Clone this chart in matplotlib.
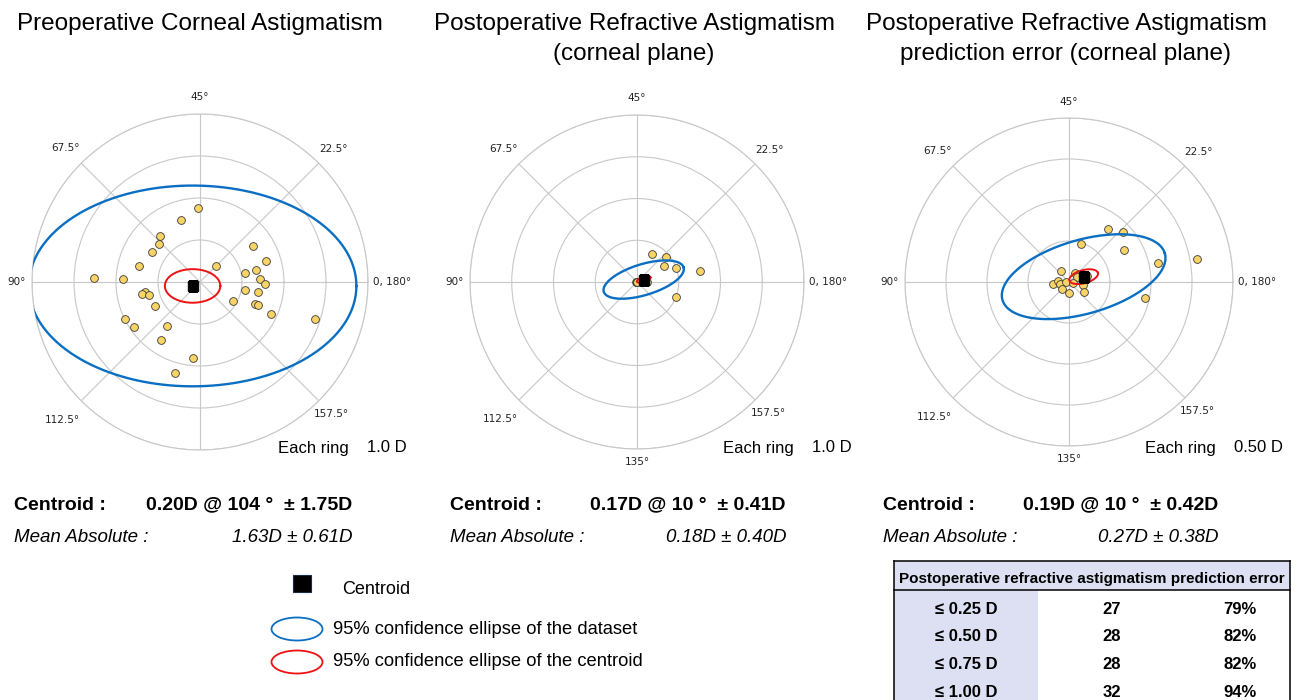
import numpy as np
import matplotlib.pyplot as plt
from matplotlib.patches import Rectangle, Ellipse

W, H = 1296, 700

# double-angle astigmatism vectors (x, y) in dioptres
pre_x = [-0.04, -0.46, -0.96, -0.98, -1.14, -1.46, -2.52, -1.84, -1.32, -1.38, -1.22,
         -1.07, -1.78, -1.57, -0.78, -0.92, -0.16, -0.60, 0.38, 1.26, 1.56, 1.07,
         1.34, 1.42, 1.54, 1.06, 1.38, 0.78, 1.30, 1.38, 1.70, 2.74]
pre_y = [1.77, 1.48, 1.10, 0.90, 0.72, 0.38, 0.09, 0.06, -0.24, -0.29, -0.31,
         -0.58, -0.88, -1.07, -1.04, -1.39, -1.80, -2.17, 0.39, 0.85, 0.50, 0.22,
         0.28, 0.06, -0.05, -0.18, -0.24, -0.45, -0.52, -0.54, -0.76, -0.89]

post_x = [0.37, 0.70, 0.65, 0.94, 1.50, 0.94, -0.02, 0.25, 0.0, 0.0, 0.0, 0.0]
post_y = [0.66, 0.60, 0.38, 0.34, 0.27, -0.36, -0.01, -0.01, 0.0, 0.0, 0.0, 0.0]

err_x = [0.47, 0.66, 0.15, 0.67, 1.09, 1.56, 0.93, -0.10, 0.07, -0.20, -0.13,
         -0.11, -0.04, -0.08, 0.00, 0.17, 0.18, 0.10, 0.22, 0.05]
err_y = [0.65, 0.61, 0.46, 0.39, 0.23, 0.28, -0.20, 0.13, 0.11, -0.03, 0.01,
         -0.02, 0.00, -0.09, -0.13, -0.04, -0.12, 0.06, 0.07, -0.01]

# centroid magnitude (D), axis (deg), SD (D); mean absolute and SD
cent_mag = [0.20, 0.17, 0.19]
cent_axis = [104, 10, 10]
cent_sd = [1.75, 0.41, 0.42]
mean_abs = [1.63, 0.18, 0.27]
mean_abs_sd = [0.61, 0.40, 0.38]

# 95% ellipses: semi-major, semi-minor, tilt (deg) in double-angle space
data_ell = [(3.90, 2.39, 0), (1.00, 0.37, 17), (1.03, 0.45, 16)]
cent_ell = [(0.66, 0.40, 0), (0.17, 0.06, 17), (0.18, 0.08, 15)]

ring_step = [1.0, 1.0, 0.5]
ring_text = ['1.0 D', '1.0 D', '0.50 D']

titles = ['Preoperative Corneal Astigmatism',
          'Postoperative Refractive Astigmatism\n(corneal plane)',
          'Postoperative Refractive Astigmatism\nprediction error (corneal plane)']

# prediction error table
tbl_rows = ['≤ 0.25 D', '≤ 0.50 D', '≤ 0.75 D', '≤ 1.00 D']
tbl_counts = [27, 28, 28, 32]
tbl_pct = [79, 82, 82, 94]

plt.rcParams['font.family'] = ['Liberation Sans', 'DejaVu Sans']

BLUE = '#0a6fc2'
RED = '#ee1111'
GOLD = '#f8d466'
GRID = '#c8c8c8'

fig = plt.figure(figsize=(W / 100, H / 100), dpi=100)


def fx(x):
    return x / W


def fy(y):
    return 1 - y / H


def ellipse_polar(cx, cy, a, b, tilt):
    t = np.linspace(0, 2 * np.pi, 721)
    ang = np.deg2rad(tilt)
    ex = cx + a * np.cos(t) * np.cos(ang) - b * np.sin(t) * np.sin(ang)
    ey = cy + a * np.cos(t) * np.sin(ang) + b * np.sin(t) * np.cos(ang)
    return np.unwrap(np.arctan2(ey, ex)), np.hypot(ex, ey)


angle_labels = {0: '0, 180°', 45: '22.5°', 90: '45°', 135: '67.5°',
                180: '90°', 225: '112.5°', 270: '135°', 315: '157.5°'}
label_pos = {0: (1.03, 'left'), 45: (1.12, 'center'), 90: (1.10, 'center'),
             135: (1.13, 'center'), 180: (1.04, 'right'), 225: (1.16, 'center'),
             270: (1.08, 'center'), 315: (1.11, 'center')}

panels = [(200, 282, 168, pre_x, pre_y), (637, 282, 167, post_x, post_y),
          (1069, 282, 164, err_x, err_y)]
ring_note_x = [(278, 407), (723, 852), (1145, 1283)]

for i, (cx, cy, rad, xs, ys) in enumerate(panels):
    ax = fig.add_axes([fx(cx - rad), fy(cy + rad), 2 * rad / W, 2 * rad / H],
                      projection='polar')
    rmax = 4 * ring_step[i]
    ax.set_ylim(0, rmax)
    ax.set_yticks(np.arange(1, 5) * ring_step[i])
    ax.set_yticklabels([])
    ax.set_xticks(np.deg2rad(np.arange(0, 360, 45)))
    ax.set_xticklabels([])
    ax.grid(True, color=GRID, linewidth=0.8)
    ax.spines['polar'].set_color(GRID)
    ax.spines['polar'].set_linewidth(0.8)

    for deg, txt in angle_labels.items():
        if i == 0 and deg == 270:
            continue
        rr, ha = label_pos[deg]
        ax.text(np.deg2rad(deg), rr * rmax, txt, ha=ha, va='center',
                fontsize=7.5, family='DejaVu Sans', color='#222222')

    xs = np.array(xs)
    ys = np.array(ys)
    ax.plot(np.arctan2(ys, xs), np.hypot(xs, ys), 'o', ms=5.6, mfc=GOLD,
            mec='#3a3a3a', mew=0.6, zorder=3)

    ccx = cent_mag[i] * np.cos(np.deg2rad(2 * cent_axis[i]))
    ccy = cent_mag[i] * np.sin(np.deg2rad(2 * cent_axis[i]))

    th, r = ellipse_polar(ccx, ccy, *data_ell[i])
    ax.plot(th, r, color=BLUE, lw=1.7, zorder=4)
    th, r = ellipse_polar(ccx, ccy, *cent_ell[i])
    ax.plot(th, r, color=RED, lw=1.4, zorder=5)
    ax.plot([np.arctan2(ccy, ccx)], [np.hypot(ccx, ccy)], 's', ms=6.5,
            color='black', zorder=6)

    # ring scale note
    nx0, nx1 = ring_note_x[i]
    fig.text(fx(nx0), fy(448), 'Each ring', fontsize=12, ha='left', va='center')
    fig.text(fx(nx1), fy(448), ring_text[i], fontsize=12, ha='right', va='center')

# titles
for tx, t in zip([200, 634, 1066], titles):
    fig.text(fx(tx), fy(13), t, fontsize=17.5, ha='center', va='top', linespacing=1.45)

# centroid and mean absolute summaries
left_x = [14, 450, 883]
right_x = [352, 786, 1218]
for i in range(3):
    fig.text(fx(left_x[i]), fy(505), 'Centroid :', fontsize=14, weight='bold',
             ha='left', va='center')
    fig.text(fx(right_x[i]), fy(505),
             f'{cent_mag[i]:.2f}D @ {cent_axis[i]} °  ± {cent_sd[i]:.2f}D',
             fontsize=14, weight='bold', ha='right', va='center')
    fig.text(fx(left_x[i]), fy(537), 'Mean Absolute :', fontsize=13.5, style='italic',
             ha='left', va='center')
    fig.text(fx(right_x[i]), fy(537), f'{mean_abs[i]:.2f}D ± {mean_abs_sd[i]:.2f}D',
             fontsize=13.5, style='italic', ha='right', va='center')

# legend
fig.add_artist(Rectangle((fx(293), fy(592)), 18 / W, 17 / H, facecolor='black',
                         edgecolor='#1c2a4a', lw=0.8, transform=fig.transFigure))
fig.text(fx(342), fy(589), 'Centroid', fontsize=13, ha='left', va='center')
for yy, col, txt in [(629, BLUE, '95% confidence ellipse of the dataset'),
                     (662, RED, '95% confidence ellipse of the centroid')]:
    fig.add_artist(Ellipse((fx(297), fy(yy)), 51 / W, 23 / H, facecolor='none',
                           edgecolor=col, lw=1.3, transform=fig.transFigure))
    fig.text(fx(333), fy(yy), txt, fontsize=13.2, ha='left', va='center')

# table
LAV = '#dde0f2'
tl, tr, tt, hb = 894, 1290, 561, 590
fig.add_artist(Rectangle((fx(tl), fy(hb)), (tr - tl) / W, (hb - tt) / H,
                         facecolor=LAV, edgecolor='none', transform=fig.transFigure))
fig.add_artist(Rectangle((fx(tl), fy(H + 5)), (1038 - tl) / W, (H + 5 - hb) / H,
                         facecolor=LAV, edgecolor='none', transform=fig.transFigure))
for (x0, y0), (x1, y1) in [((tl, tt), (tr, tt)), ((tl, hb), (tr, hb)),
                           ((tl, tt), (tl, H + 5)), ((tr, tt), (tr, H + 5))]:
    fig.add_artist(plt.Line2D([fx(x0), fx(x1)], [fy(y0), fy(y1)], color='black',
                              lw=1.1, transform=fig.transFigure))
fig.text(fx((tl + tr) / 2), fy(579), 'Postoperative refractive astigmatism prediction error',
         fontsize=11, weight='bold', ha='center', va='center')
for k, (lab, n, p) in enumerate(zip(tbl_rows, tbl_counts, tbl_pct)):
    yy = 609 + k * 27.7
    fig.text(fx(966), fy(yy), lab, fontsize=12, weight='bold', ha='center', va='center')
    fig.text(fx(1112), fy(yy), str(n), fontsize=12, weight='bold', ha='center', va='center')
    fig.text(fx(1240), fy(yy), f'{p}%', fontsize=12, weight='bold', ha='center', va='center')

fig.savefig('out.png', dpi=100)
